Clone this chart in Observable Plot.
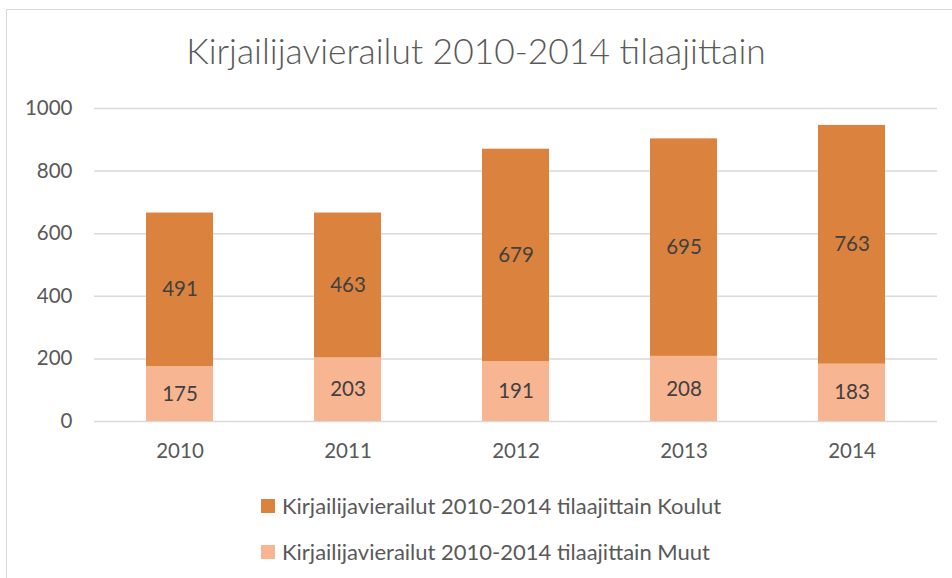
<!DOCTYPE html>
<html>
<head>
<meta charset="utf-8">
<script src="https://cdn.jsdelivr.net/npm/d3@7"></script>
<script src="https://cdn.jsdelivr.net/npm/@observablehq/plot@0.6"></script>
<style>
  html, body { margin: 0; padding: 0; background: #fff; overflow: hidden; }
  body { width: 952px; height: 578px; position: relative; font-family: Lato, "Open Sans", sans-serif; }
  #frame { position: absolute; left: 6px; top: 9px; width: 1000px; height: 700px; border: 1.5px solid #D9D9D9; box-sizing: border-box; }
  #wrap { position: absolute; left: 0; top: 0; width: 952px; }
  #title { height: 95px; box-sizing: border-box; padding-top: 32px; text-align: center; font-size: 35.4px; font-weight: 300; color: #595959; line-height: 38px; }
  #legend { position: absolute; left: 261px; top: 0; }
  .row { position: absolute; left: 0; white-space: nowrap; font-size: 22px; color: #595959; line-height: 26px; }
  .sw { position: absolute; left: 0; width: 14px; height: 14px; }
  .lt { position: absolute; left: 21px; top: -13px; }
</style>
</head>
<body>
<div id="frame"></div>
<div id="wrap">
  <div id="title">Kirjailijavierailut 2010-2014 tilaajittain</div>
  <div id="chart"></div>
</div>
<div id="legend"></div>
<script>
const years = ["2010", "2011", "2012", "2013", "2014"];
const koulut = [491, 463, 679, 695, 763];
const muut = [175, 203, 191, 208, 183];
const seriesNames = [
  "Kirjailijavierailut 2010-2014 tilaajittain Koulut",
  "Kirjailijavierailut 2010-2014 tilaajittain Muut"
];
const seriesColors = ["#DB833E", "#F8B592"];
const yTicks = [0, 200, 400, 600, 800, 1000];

// Muut at bottom of stack, Koulut on top
const data = [];
years.forEach((y, i) => data.push({year: y, series: seriesNames[1], value: muut[i]}));
years.forEach((y, i) => data.push({year: y, series: seriesNames[0], value: koulut[i]}));

const chart = Plot.plot({
  width: 952,
  height: 375,
  marginTop: 13,
  marginBottom: 49,
  marginLeft: 94,
  marginRight: 15,
  style: {fontFamily: "Lato, 'Open Sans', sans-serif", fontSize: "20.5px", color: "#595959", background: "transparent"},
  x: {domain: years, paddingInner: 0.6, paddingOuter: 0.3, label: null, tickSize: 0, tickPadding: 22},
  y: {domain: [0, 1000], ticks: yTicks, tickFormat: d => String(d), label: null, tickSize: 0, tickPadding: 22},
  color: {domain: seriesNames, range: seriesColors},
  marks: [
    Plot.ruleY(yTicks, {stroke: "#D9D9D9", strokeWidth: 1.5}),
    Plot.barY(data, {x: "year", y: "value", fill: "series", z: "series"}),
    Plot.text(data, Plot.stackY({x: "year", y: "value", z: "series", text: d => String(d.value), fill: "#404040", fontSize: 20.5}))
  ]
});
document.getElementById("chart").appendChild(chart);

const legend = document.getElementById("legend");
const rowY = [506, 552];
seriesNames.forEach((name, i) => {
  const row = document.createElement("div");
  row.className = "row";
  row.style.top = rowY[i] + "px";
  const sw = document.createElement("div");
  sw.className = "sw";
  sw.style.top = "-7px";
  sw.style.background = seriesColors[i];
  const lt = document.createElement("div");
  lt.className = "lt";
  lt.textContent = name;
  row.appendChild(sw);
  row.appendChild(lt);
  legend.appendChild(row);
});
</script>
</body>
</html>
